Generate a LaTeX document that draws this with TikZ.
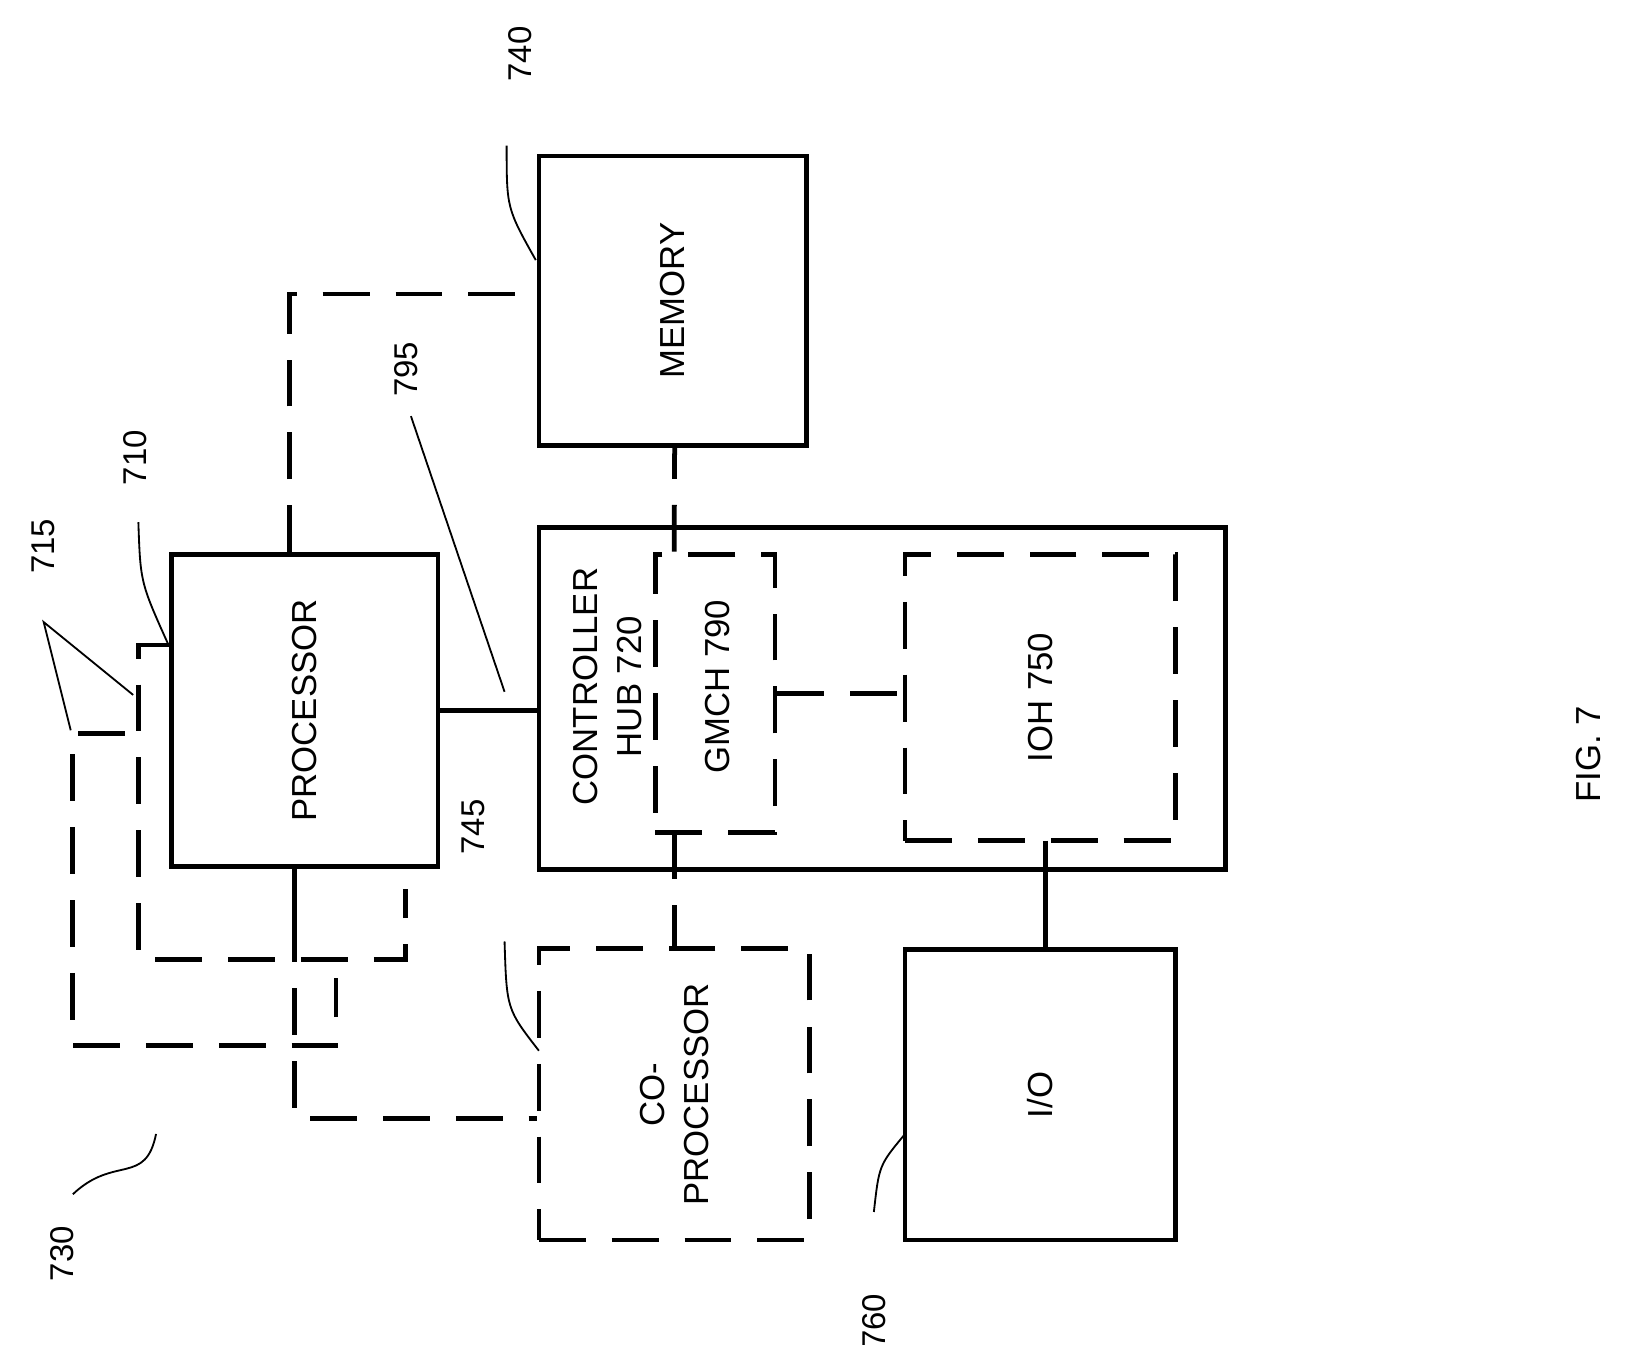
\documentclass[tikz,border=0pt]{standalone}
\usepackage{fontspec}
\setmainfont{Liberation Sans}
\usetikzlibrary{positioning}
\tikzset{
  box/.style={draw,line width=1.3pt,inner sep=0pt},
  dbox/.style={box,dash pattern=on 0.45cm off 0.25cm},
  dline/.style={line width=1.3pt,dash pattern=on 0.45cm off 0.25cm},
  sline/.style={line width=1.3pt},
  txt/.style={rotate=90,font=\fontsize{9.5}{12}\selectfont,align=center},
  ref/.style={rotate=90,font=\fontsize{9}{11}\selectfont},
  lead/.style={line width=0.5pt}
}
\begin{document}
\begin{tikzpicture}[x=0.01cm,y=-0.01cm]
  \useasboundingbox (0,0) rectangle (1562,1292);
  %% outer dashed frames behind the processor
  \draw[dline] (120,705) -- (70,705) -- (70,1005) -- (323,1005) -- (323,940);
  \draw[dline] (165,620) -- (133,620) -- (133,922) -- (390,922) -- (390,855);
  %% boxes
  \node[box,fill=white,minimum width=256*0.01cm,minimum height=300*0.01cm] (proc) at (293,683) {};
  \node[txt] at (proc) {PROCESSOR};
  \node[box,minimum width=257*0.01cm,minimum height=278*0.01cm] (mem) at (646.5,289) {};
  \node[txt] at (mem) {MEMORY};
  \node[box,minimum width=660*0.01cm,minimum height=329*0.01cm] (hub) at (848,671.5) {};
  \node[txt] at (584,660) {CONTROLLER\\HUB 720};
  \node[dbox,minimum width=115*0.01cm,minimum height=267*0.01cm] (gmch) at (687.5,666.5) {};
  \node[txt] at (690,660) {GMCH 790};
  \node[dbox,minimum width=260*0.01cm,minimum height=275*0.01cm] (ioh) at (1000,670.5) {};
  \node[txt] at (ioh) {IOH 750};
  \node[dbox,minimum width=260*0.01cm,minimum height=280*0.01cm] (cop) at (648,1052) {};
  \node[txt] at (cop) {CO-\\PROCESSOR};
  \node[box,minimum width=260*0.01cm,minimum height=279*0.01cm] (io) at (1000,1052.5) {};
  \node[txt] at (io) {I/O};
  %% connections
  \draw[sline] (proc.east) -- (hub.west |- proc.east);
  \draw[dline] (proc.north) ++(-15,0) -- ++(0,-248) coordinate (pm) -- (pm -| mem.west);
  \draw[sline] (283,833) -- (283,880);
  \draw[dline] (283,880) -- (283,1075) -- (cop.west |- 0,1075);
  \draw[dline,dash phase=0.15cm] (mem.south) ++(2,0) -- (648,533);
  \draw[dline] (648,800) -- (cop.north);
  \draw[dline] (gmch.east) -- (ioh.west |- gmch.east);
  \draw[sline] (1005,808) -- (io.north -| 1005,0);
  %% reference numerals
  \node[ref] at (130,440) {710};
  \draw[lead] (133,502) .. controls (135,560) .. (162,620);
  \node[ref] at (42,525) {715};
  \draw[lead] (68,702) -- (42,598) -- (128,668);
  \node[ref] at (390,355) {795};
  \draw[lead] (395,400) -- (485,665);
  \node[ref] at (500,52) {740};
  \draw[lead] (487,140) .. controls (487,200) .. (515,250);
  \node[ref] at (455,795) {745};
  \draw[lead] (485,905) .. controls (487,970) .. (518,1010);
  \node[ref] at (840,1270) {760};
  \draw[lead] (840,1165) .. controls (845,1120) .. (870,1090);
  \node[ref] at (60,1205) {730};
  \draw[lead] (70,1148) .. controls (110,1110) and (140,1140) .. (150,1090);
  \node[txt] at (1527,725) {FIG. 7};
\end{tikzpicture}
\end{document}
